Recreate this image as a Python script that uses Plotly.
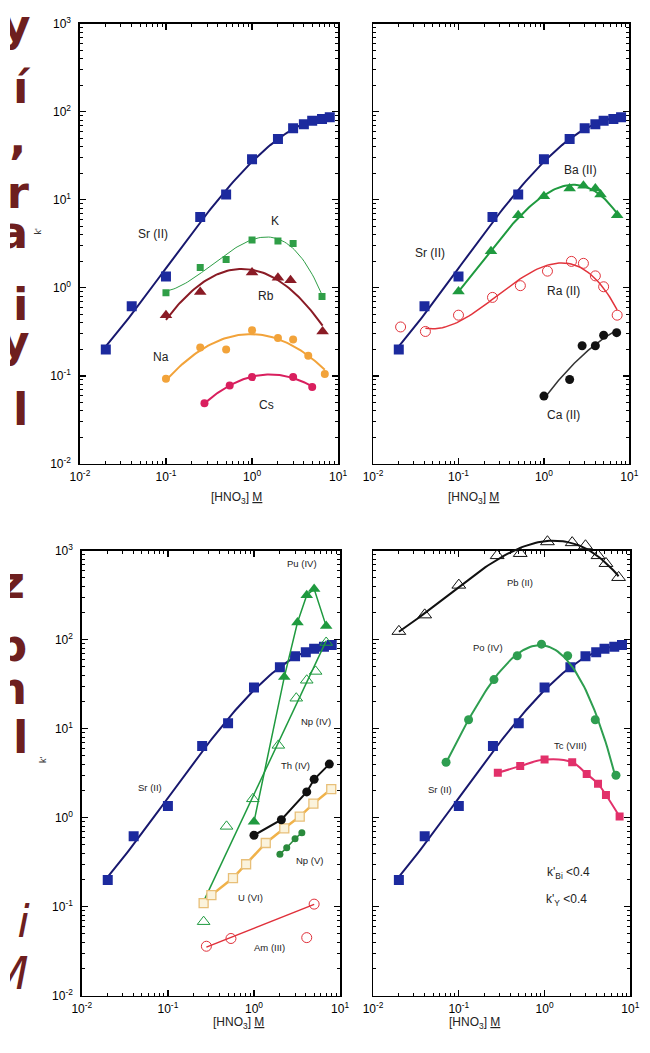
import numpy as np
import plotly.graph_objects as go

# ---------------- data ----------------
# Sr(II) reference curve, present in all four panels
sr_x = [0.02, 0.04, 0.1, 0.25, 0.5, 1, 2, 3, 4, 5, 6.5, 8]
sr_y = [0.2, 0.62, 1.35, 6.4, 11.5, 29, 49, 65, 72, 79, 83, 87]

# panel 1 (alkali metals)
k_x = [0.1, 0.25, 0.5, 1, 2, 3, 6.5]
k_y = [0.88, 1.7, 2.1, 3.5, 3.4, 3.2, 0.8]
rb_x = [0.1, 0.25, 1, 2, 2.8, 6.6]
rb_y = [0.49, 0.9, 1.5, 1.3, 1.22, 0.32]
na_x = [0.1, 0.25, 0.5, 1, 2, 3, 4.5, 7]
na_y = [0.093, 0.21, 0.2, 0.33, 0.27, 0.26, 0.17, 0.105]
cs_x = [0.28, 0.55, 1, 3, 5]
cs_y = [0.049, 0.078, 0.097, 0.097, 0.075]

# panel 2 (alkaline earths)
ba_x = [0.1, 0.24, 0.5, 1, 2, 2.9, 4, 4.6, 7.2]
ba_y = [0.91, 2.6, 6.7, 11, 13.5, 14.5, 13.5, 11.5, 6.7]
ra_x = [0.021, 0.041, 0.1, 0.25, 0.53, 1.1, 2.1, 2.9, 4, 5, 7.2]
ra_y = [0.36, 0.32, 0.49, 0.78, 1.06, 1.55, 2.0, 1.9, 1.37, 1.03, 0.49]
ra_fit = [0, 1, 1, 1, 1, 1, 1, 1, 1, 1, 1]
ca_x = [1, 2, 2.8, 4, 5, 7.1]
ca_y = [0.059, 0.091, 0.22, 0.22, 0.29, 0.31]

# panel 3 (actinides)
pu_x = [1, 2.25, 3.2, 4.1, 5, 6.9]
pu_y = [0.9, 38, 156, 316, 370, 142]
np4_x = [0.26, 0.48, 0.97, 1.92, 3.1, 4.1, 5.2, 6.9]
np4_y = [0.068, 0.8, 1.63, 6.5, 22, 35, 44, 93]
th_x = [1, 2.08, 4.1, 5, 7.5]
th_y = [0.635, 0.95, 1.95, 2.7, 4.0]
u_x = [0.26, 0.32, 0.57, 0.81, 1.37, 2.25, 3.4, 4.9, 7.9]
u_y = [0.11, 0.135, 0.21, 0.30, 0.52, 0.76, 1.03, 1.44, 2.1]
np5_x = [2, 2.4, 3, 3.6]
np5_y = [0.39, 0.46, 0.58, 0.68]
am_x = [0.28, 0.54, 4.1, 5]
am_y = [0.036, 0.044, 0.045, 0.107]
am_fit = [1, 1, 0, 1]

# panel 4
pb_x = [0.02, 0.04, 0.1, 0.28, 0.52, 1.08, 2.1, 3, 4.2, 5.2, 7.3]
pb_y = [124, 190, 410, 880, 930, 1260, 1230, 1135, 880, 718, 500]
po_x = [0.071, 0.13, 0.257, 0.48, 0.92, 1.86, 3.9, 6.8]
po_y = [4.2, 12.6, 35.6, 66, 89, 66, 12.6, 3.0]
tc_x = [0.285, 0.52, 1.0, 2.1, 3.1, 4.2, 5.2, 7.5]
tc_y = [3.2, 3.8, 4.5, 4.2, 3.1, 2.4, 1.8, 1.03]

# axis ticks
tick_x_vals = [0.01, 0.1, 1, 10]
tick_x_text = ["10<sup>-2</sup>", "10<sup>-1</sup>", "10<sup>0</sup>", "10<sup>1</sup>"]
tick_y_vals = [0.01, 0.1, 1, 10, 100, 1000]
tick_y_text = ["10<sup>-2</sup>", "10<sup>-1</sup>", "10<sup>0</sup>",
               "10<sup>1</sup>", "10<sup>2</sup>", "10<sup>3</sup>"]

# in-plot labels: (panel, text, x, y, size)
labels = [
    (1, "Sr (II)", 0.07, 4.1, 12), (1, "K", 1.87, 5.8, 12), (1, "Rb", 1.44, 0.80, 12),
    (1, "Na", 0.088, 0.166, 12), (1, "Cs", 1.48, 0.047, 12),
    (2, "Sr (II)", 0.047, 2.5, 12), (2, "Ba (II)", 2.7, 22, 12), (2, "Ra (II)", 1.69, 0.93, 12),
    (2, "Ca (II)", 1.69, 0.0357, 12),
    (3, "Pu (IV)", 3.6, 718, 9.5), (3, "Np (IV)", 5.3, 12.2, 9.5), (3, "Th (IV)", 3.0, 3.9, 9.5),
    (3, "Sr (II)", 0.062, 2.16, 9.5), (3, "Np (V)", 4.4, 0.33, 9.5), (3, "U (VI)", 0.9, 0.128, 9.5),
    (3, "Am (III)", 1.52, 0.0348, 9.5),
    (4, "Pb (II)", 0.52, 443, 9.5), (4, "Po (IV)", 0.219, 82, 9.5), (4, "Tc (VIII)", 2.03, 6.45, 9.5),
    (4, "Sr (II)", 0.061, 2.05, 9.5),
    (4, "k'<sub>Bi</sub> &lt;0.4", 1.92, 0.24, 12), (4, "k'<sub>Y</sub> &lt;0.4", 1.78, 0.118, 12),
]

# fragments of slide text cut by the left edge of the picture
side_text = ["<b>y</b>", "<b>í</b>", "<b>,</b>", "<b>r</b>", "<b>a</b>", "<b>i</b>", "<b>y</b>",
             "<b>l</b>", "<b>z</b>", "<b>b</b>", "<b>n</b>", "<b>l</b>", "<i>i</i>", "<i>M</i>"]
side_cx = [6, 11, 8, 8, 3, 11, 5, 11, 2, 1, 1, 11, 14, -1]          # glyph centres, px
side_cy = [21, 84, 136, 191, 231, 304, 342, 411, 587, 651, 694, 744, 931, 984]

# ---------------- figure ----------------
W, H = 650, 1053
fig = go.Figure()

def fit_curve(x, y, deg, mask=None, n=80):
    lx = np.log10(np.asarray(x, float))
    ly = np.log10(np.asarray(y, float))
    if mask is not None:
        m = np.asarray(mask, bool)
        lx, ly = lx[m], ly[m]
    c = np.polyfit(lx, ly, deg)
    xs = np.linspace(lx.min(), lx.max(), n)
    return 10 ** xs, 10 ** np.polyval(c, xs)

def add_series(panel, x, y, symbol, msize, mcolor, lcolor, lwidth, how, deg=None, mask=None,
               mline=None, clip=True):
    xa = "x" if panel == 1 else f"x{panel}"
    ya = "y" if panel == 1 else f"y{panel}"
    if how == "fit":
        fx, fy = fit_curve(x, y, deg, mask)
        fig.add_trace(go.Scatter(x=fx, y=fy, mode="lines", line=dict(color=lcolor, width=lwidth),
                                 xaxis=xa, yaxis=ya, showlegend=False, hoverinfo="skip"))
    else:
        fig.add_trace(go.Scatter(x=x, y=y, mode="lines",
                                 line=dict(color=lcolor, width=lwidth, shape=how),
                                 xaxis=xa, yaxis=ya, showlegend=False, hoverinfo="skip"))
    mk = dict(symbol=symbol, size=msize, color=mcolor)
    if mline:
        mk["line"] = dict(color=mline, width=1.3)
    else:
        mk["line"] = dict(width=0)
    fig.add_trace(go.Scatter(x=x, y=y, mode="markers", marker=mk, xaxis=xa, yaxis=ya,
                             showlegend=False, cliponaxis=clip))

SR_M, SR_L = "#1c2a9e", "#18186e"
GREEN = "#1f9a3f"

# panel 1
add_series(1, sr_x, sr_y, "square", 10, SR_M, SR_L, 2, "fit", 3)
add_series(1, k_x, k_y, "square", 7, "#2f9e47", "#2f9e47", 1, "fit", 3)
add_series(1, rb_x, rb_y, "triangle-up", 11, "#8a1b25", "#8a1b25", 2, "fit", 2)
add_series(1, na_x, na_y, "circle", 8, "#f2a33a", "#f2a33a", 2, "fit", 2)
add_series(1, cs_x, cs_y, "circle", 8, "#d91f5e", "#d91f5e", 2, "fit", 2)
# panel 2
add_series(2, sr_x, sr_y, "square", 10, SR_M, SR_L, 2, "fit", 3)
add_series(2, ba_x, ba_y, "triangle-up", 11, GREEN, GREEN, 2, "fit", 3)
add_series(2, ra_x, ra_y, "circle-open", 10, "#e2343c", "#e2343c", 1.5, "fit", 3, ra_fit)
add_series(2, ca_x, ca_y, "circle", 9, "#111111", "#333333", 1.5, "fit", 2)
# panel 3
add_series(3, sr_x, sr_y, "square", 10, SR_M, SR_L, 2, "fit", 3)
add_series(3, np4_x, np4_y, "triangle-up-open", 11, GREEN, GREEN, 1.5, "fit", 1)
add_series(3, pu_x, pu_y, "triangle-up", 11, GREEN, GREEN, 1.5, "linear")
add_series(3, u_x, u_y, "square", 9, "#fbf3dc", "#f0b24a", 2.5, "linear", mline="#e8bf78")
add_series(3, th_x, th_y, "circle", 9, "#111111", "#111111", 2, "linear")
add_series(3, np5_x, np5_y, "circle", 7, "#2a8a3c", "#2a8a3c", 1.5, "linear")
add_series(3, am_x, am_y, "circle-open", 10, "#e0303a", "#e0303a", 1.5, "fit", 1, am_fit)
# panel 4
add_series(4, sr_x, sr_y, "square", 10, SR_M, SR_L, 2, "fit", 3)
add_series(4, po_x, po_y, "circle", 9, "#2e9e50", "#2e9e50", 2, "fit", 3)
add_series(4, tc_x, tc_y, "square", 8, "#e2306a", "#e2306a", 2, "spline")
# Pb(II) overshoots the top of panel 4: it lives on a hidden, taller axis pair (5) with the same scale
add_series(5, pb_x, pb_y, "triangle-up-open", 12, "#111111", "#111111", 2, "fit", 3, clip=False)

# side text fragments on a hidden full-page pixel axis, clipped at the page edge
fig.add_trace(go.Scatter(x=side_cx, y=side_cy, text=side_text, mode="text",
                         textposition="middle center", cliponaxis=True,
                         textfont=dict(family="DejaVu Sans", size=45, color="#6e1f1f"),
                         xaxis="x6", yaxis="y6", showlegend=False, hoverinfo="skip"))

# panel domains in pixels: (left, right, top, bottom)
panels = {
    1: (72, 338, 15, 462),
    2: (374, 638, 15, 462),
    3: (74, 340, 550, 1002),
    4: (374, 639, 550, 1002),
}

def axis_style(show_labels, vals, text, rng):
    return dict(type="log", range=rng, showline=True, linecolor="black", linewidth=1.5,
                mirror="ticks", ticks="inside", ticklen=6, tickwidth=1.2, tickcolor="black",
                showgrid=False, zeroline=False, tickmode="array", tickvals=vals, ticktext=text,
                showticklabels=show_labels,
                minor=dict(ticks="inside", ticklen=3, tickwidth=1, tickcolor="black",
                           dtick="D1", showgrid=False),
                tickfont=dict(family="Arial", size=12, color="black"))

layout = dict(width=W, height=H, margin=dict(l=0, r=0, t=0, b=0),
              paper_bgcolor="white", plot_bgcolor="rgba(0,0,0,0)", showlegend=False,
              hovermode=False)
for p, (l, r, t, b) in panels.items():
    sx = "xaxis" if p == 1 else f"xaxis{p}"
    sy = "yaxis" if p == 1 else f"yaxis{p}"
    ax_id = "y" if p == 1 else f"y{p}"
    xa_id = "x" if p == 1 else f"x{p}"
    xd = axis_style(True, tick_x_vals, tick_x_text, [-2, 1])
    xd.update(domain=[l / W, r / W], anchor=ax_id, ticklabelstandoff=1)
    yd = axis_style(p in (1, 3), tick_y_vals, tick_y_text, [-2, 3])
    yd.update(domain=[1 - b / H, 1 - t / H], anchor=xa_id, ticklabelstandoff=5)
    layout[sx] = xd
    layout[sy] = yd

# hidden taller axis pair aligned with panel 4 (same px per decade), extended upward
l4, r4, t4, b4 = panels[4]
ext_top = 520
px_per_dec = (b4 - t4) / 5.0
layout["xaxis5"] = dict(type="log", range=[-2, 1], domain=[l4 / W, r4 / W], visible=False,
                        anchor="y5")
layout["yaxis5"] = dict(type="log", range=[-2, 3 + (t4 - ext_top) / px_per_dec],
                        domain=[1 - b4 / H, 1 - ext_top / H], visible=False, anchor="x5")
# hidden full-page pixel axes
layout["xaxis6"] = dict(range=[0, W], domain=[0, 1], visible=False, anchor="y6")
layout["yaxis6"] = dict(range=[H, 0], domain=[0, 1], visible=False, anchor="x6")
fig.update_layout(**layout)

ann = []
for p, txt, x, y, size in labels:
    ann.append(dict(text=txt, x=np.log10(x), y=np.log10(y),
                    xref="x" if p == 1 else f"x{p}", yref="y" if p == 1 else f"y{p}",
                    showarrow=False, font=dict(family="Arial", size=size, color="#222")))

# axis titles
for p, (l, r, t, b) in panels.items():
    ty = 497 if p in (1, 2) else 1040
    ann.append(dict(text="[HNO<sub>3</sub>] <u>M</u>", x=(l + r) / 2 / W, y=1 - ty / H,
                    xref="paper", yref="paper", showarrow=False,
                    font=dict(family="Arial", size=12, color="#222")))
for (kx, ky) in [(22, 220), (27, 768)]:
    ann.append(dict(text="k'", x=kx / W, y=1 - ky / H, xref="paper", yref="paper",
                    showarrow=False, textangle=-90, font=dict(family="Arial", size=9, color="#333")))

fig.update_layout(annotations=ann)
fig.write_html("out.html", config={"displayModeBar": False, "staticPlot": True},
               post_script="document.body.style.margin='0px';")
